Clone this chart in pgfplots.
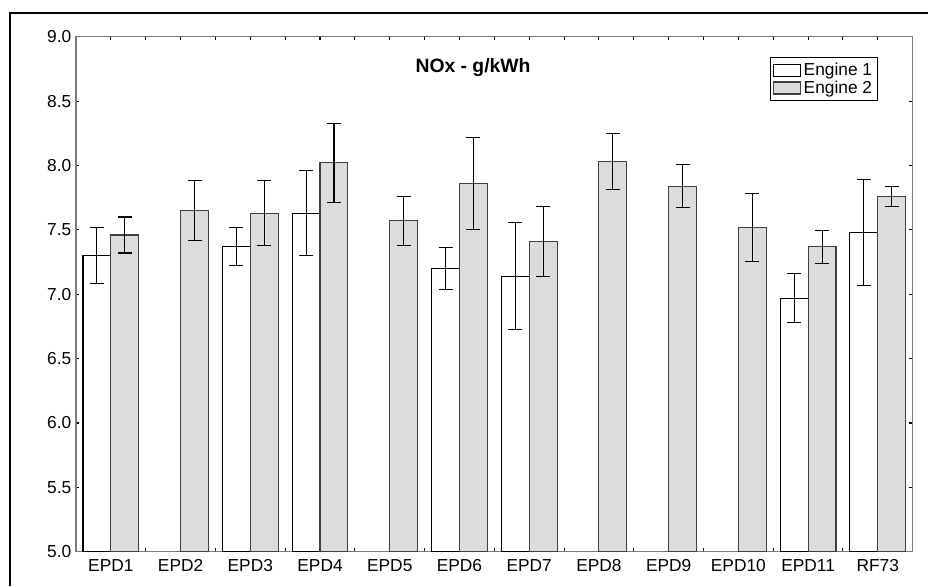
\documentclass[border=0pt]{standalone}
\usepackage{fontspec}
\setmainfont{Liberation Sans}
\usepackage{pgfplots}
\pgfplotsset{compat=1.18}
\definecolor{barfill}{HTML}{DCDCDC}
\definecolor{axgray}{HTML}{7A7A7A}
\begin{document}
\begin{tikzpicture}
\useasboundingbox (0,0) rectangle (696pt,439.5pt);
% outer frame (cut off at right and bottom in the original)
\draw[black, line width=0.9pt] (7.5pt,0pt) -- (7.5pt,429.75pt) -- (696pt,429.75pt);
\begin{axis}[
    at={(57pt,25.7pt)}, anchor=south west,
    scale only axis,
    width=627.5pt, height=386.25pt,
    ybar=0pt,
    bar width=0.4,
    xmin=-0.5, xmax=11.5,
    ymin=5, ymax=9,
    xtick={0,...,11},
    xticklabels={EPD1,EPD2,EPD3,EPD4,EPD5,EPD6,EPD7,EPD8,EPD9,EPD10,EPD11,RF73},
    minor xtick={-0.5,0.5,...,11.5},
    ytick={5,5.5,...,9},
    yticklabel style={/pgf/number format/.cd, fixed, fixed zerofill, precision=1},
    /pgf/number format/assume math mode=true,
    tick label style={font=\fontsize{13}{15}\selectfont},
    xticklabel style={yshift=-2pt},
    tick align=inside,
    major tick length=2.5pt,
    minor tick length=2.5pt,
    every tick/.style={black, line width=0.8pt},
    axis line style={axgray, line width=1.1pt},
    legend style={at={(0.9585,0.9606)}, anchor=north east, draw=black,
        line width=0.7pt, font=\fontsize{13}{13.5}\selectfont,
        inner sep=2pt, row sep=-1.5pt, cells={anchor=west}},
    legend image code/.code={\draw[#1] (0pt,-4.5pt) rectangle (20pt,4.5pt);},
    error bars/error bar style={black, line width=0.8pt},
    error bars/error mark options={rotate=90, mark size=5.25pt, line width=0.8pt, black},
]
\addplot[draw=black, fill=white, line width=0.8pt,
    error bars/.cd, y dir=both, y explicit] coordinates {
    (0,7.30) +- (0,0.22)
    (2,7.37) +- (0,0.15)
    (3,7.63) +- (0,0.33)
    (5,7.20) +- (0,0.16)
    (6,7.14) +- (0,0.415)
    (10,6.97) +- (0,0.19)
    (11,7.48) +- (0,0.413)
};
\addplot[draw=black!75, fill=barfill, line width=0.8pt,
    error bars/.cd, y dir=both, y explicit] coordinates {
    (0,7.46) +- (0,0.14)
    (1,7.65) +- (0,0.23)
    (2,7.63) +- (0,0.25)
    (3,8.02) +- (0,0.305)
    (4,7.57) +- (0,0.19)
    (5,7.86) +- (0,0.36)
    (6,7.41) +- (0,0.275)
    (7,8.03) +- (0,0.22)
    (8,7.84) +- (0,0.167)
    (9,7.52) +- (0,0.264)
    (10,7.37) +- (0,0.128)
    (11,7.76) +- (0,0.08)
};
\legend{Engine 1, Engine 2}
\node[font=\bfseries\fontsize{14.5}{16}\selectfont] at (rel axis cs:0.4745,0.941) {NOx - g/kWh};
\end{axis}
\end{tikzpicture}
\end{document}
